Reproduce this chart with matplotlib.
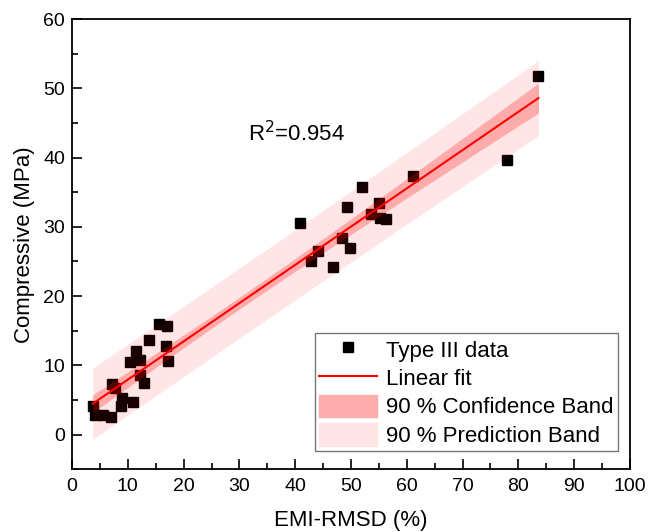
import numpy as np
import matplotlib
matplotlib.use('Agg')
import matplotlib.pyplot as plt
from matplotlib.patches import Patch
from matplotlib.lines import Line2D
from matplotlib.ticker import MultipleLocator

plt.rcParams['font.family'] = ['Liberation Sans', 'DejaVu Sans']

# Type III data: EMI-RMSD (%) vs compressive strength (MPa)
emi_rmsd = [3.7, 4.1, 5.6, 6.9, 7.1, 7.7, 8.9, 8.7, 11.0, 10.4, 11.4, 12.2, 12.1, 12.9,
            13.8, 15.6, 17.0, 16.8, 17.2,
            40.8, 42.9, 44.1, 46.7, 48.4, 49.8, 49.2, 52.0, 53.5, 55.1, 55.2, 56.2, 61.1,
            77.9, 83.6]
compressive = [4.1, 2.9, 2.8, 2.5, 7.3, 6.7, 5.3, 4.1, 4.7, 10.5, 12.1, 10.8, 8.65, 7.4,
               13.6, 16.0, 15.75, 12.75, 10.7,
               30.6, 25.0, 26.5, 24.2, 28.4, 26.9, 32.8, 35.8, 31.8, 33.5, 31.3, 31.1, 37.3,
               39.7, 51.8]
r2_label = 'R$^2$=0.954'
t_90 = 1.694  # two-sided 90 % t value, n-2 = 32 dof

x = np.array(emi_rmsd)
y = np.array(compressive)
n = len(x)

# linear fit with confidence / prediction bands
slope, intercept = np.polyfit(x, y, 1)
resid = y - (slope * x + intercept)
s = np.sqrt(np.sum(resid ** 2) / (n - 2))
xf = np.linspace(x.min(), x.max(), 200)
yf = slope * xf + intercept
sxx = np.sum((x - x.mean()) ** 2)
conf = t_90 * s * np.sqrt(1 / n + (xf - x.mean()) ** 2 / sxx)
pred = t_90 * s * np.sqrt(1 + 1 / n + (xf - x.mean()) ** 2 / sxx)

fig = plt.figure(figsize=(6.61, 5.32), dpi=100)
ax = fig.add_axes([0.109, 0.118, 0.844, 0.846])

ax.plot(x, y, 's', color='black', markersize=7.5, zorder=2)
ax.fill_between(xf, yf - pred, yf + pred, color='red', alpha=0.1, lw=0, zorder=3)
ax.fill_between(xf, yf - conf, yf + conf, color='red', alpha=0.25, lw=0, zorder=4)
ax.plot(xf, yf, color='red', lw=1.5, zorder=5)

ax.text(31.6, 43.5, r2_label, fontsize=16, va='center', ha='left')

ax.set_xlim(0, 100)
ax.set_ylim(-5, 60)
ax.xaxis.set_major_locator(MultipleLocator(10))
ax.xaxis.set_minor_locator(MultipleLocator(5))
ax.yaxis.set_major_locator(MultipleLocator(10))
ax.yaxis.set_minor_locator(MultipleLocator(5))
ax.tick_params(which='both', direction='in', labelsize=14, width=1.2)
ax.tick_params(which='major', length=7)
ax.tick_params(which='minor', length=4)
ax.tick_params(axis='x', pad=6)
ax.tick_params(axis='y', pad=5)
for sp in ax.spines.values():
    sp.set_linewidth(1.3)

ax.set_xlabel('EMI-RMSD (%)', fontsize=16, labelpad=11)
ax.set_ylabel('Compressive (MPa)', fontsize=16, labelpad=6)

handles = [
    Line2D([], [], ls='none', marker='s', color='black', markersize=7.5),
    Line2D([], [], color='red', lw=1.5),
    Patch(facecolor='#ffacac', edgecolor='#ffacac'),
    Patch(facecolor='#ffe5e5', edgecolor='#ffe5e5'),
]
labels = ['Type III data', 'Linear fit', '90 % Confidence Band', '90 % Prediction Band']
leg = ax.legend(handles, labels, loc='lower right', bbox_to_anchor=(0.978, 0.04),
                fontsize=16, frameon=True, fancybox=False, handlelength=2.6,
                handleheight=1.2, labelspacing=0.2, borderpad=0.2, handletextpad=0.4,
                borderaxespad=0)
leg.get_frame().set_edgecolor('#555555')
leg.get_frame().set_linewidth(1.0)

fig.savefig('out.png', dpi=100)
